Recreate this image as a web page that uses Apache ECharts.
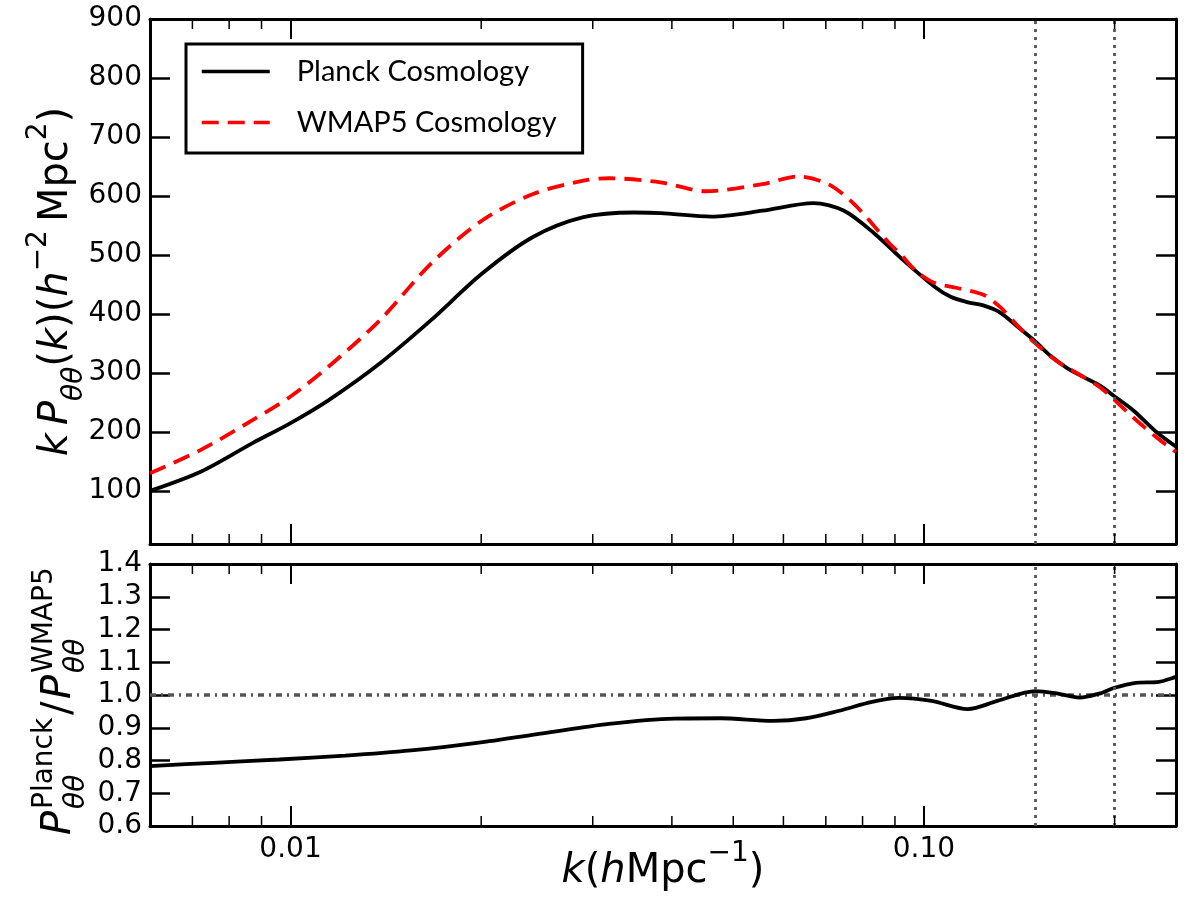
<!DOCTYPE html>
<html>
<head>
<meta charset="utf-8">
<script src="https://cdn.jsdelivr.net/npm/echarts@6/dist/echarts.min.js"></script>
<style>
  html, body { margin: 0; padding: 0; background: #fff; }
  #chart { width: 1200px; height: 900px; }
</style>
</head>
<body>
<div id="chart"></div>
<script>
// top panel: k P(k) for the two cosmologies
const planckK = [0.006, 0.00723, 0.00871, 0.01, 0.01149, 0.01383, 0.01665, 0.02004, 0.0241, 0.029, 0.0349, 0.0384, 0.0462, 0.0556, 0.0669, 0.0748, 0.0836, 0.0919, 0.1037, 0.1102, 0.117, 0.1244, 0.1321, 0.1403, 0.15, 0.1584, 0.1683, 0.1787, 0.19, 0.2, 0.2143, 0.2333, 0.25];
const planckP = [100, 133, 181, 215, 254, 316, 389, 468, 530, 564, 572, 571, 565, 575, 588, 575, 536, 495, 447, 429, 420, 414, 402, 379, 353, 329, 308, 293, 278, 260, 236, 199, 175];

const wmapK = [0.006, 0.00723, 0.00871, 0.01, 0.01149, 0.01383, 0.01665, 0.02004, 0.0241, 0.029, 0.0319, 0.0384, 0.0453, 0.0556, 0.0633, 0.0706, 0.0776, 0.0883, 0.0919, 0.0969, 0.1037, 0.1129, 0.1244, 0.1321, 0.1403, 0.15, 0.1622, 0.1787, 0.19, 0.2, 0.2143, 0.2333, 0.25];
const wmapP = [130, 170, 220, 260, 311, 389, 485, 558, 603, 626, 630, 623, 608, 620, 633, 620, 586, 519, 501, 474, 453, 444, 432, 411, 381, 350, 320, 293, 275, 254, 224, 190, 166];

// bottom panel: ratio Planck / WMAP5
const ratioK = [0.006, 0.00755, 0.0096, 0.0122, 0.0155, 0.0197, 0.025, 0.0318, 0.0404, 0.0477, 0.0578, 0.0652, 0.0735, 0.0828, 0.0912, 0.1028, 0.1173, 0.1306, 0.15, 0.162, 0.176, 0.189, 0.2, 0.216, 0.235, 0.25];
const ratioVals = [0.783, 0.793, 0.803, 0.815, 0.831, 0.854, 0.883, 0.912, 0.928, 0.929, 0.921, 0.929, 0.952, 0.979, 0.991, 0.982, 0.957, 0.982, 1.012, 1.005, 0.992, 1.004, 1.022, 1.037, 1.040, 1.056];

// ratio = 1 reference line
const unityK = [0.006, 0.25];
const unityVals = [1.0, 1.0];

const markerK = [0.15, 0.2];
const minorTickK = [0.007, 0.008, 0.009, 0.02, 0.03, 0.04, 0.05, 0.06, 0.07, 0.08, 0.09, 0.2];
const topYTicks = [100, 200, 300, 400, 500, 600, 700, 800, 900];

const font = '"DejaVu Sans", sans-serif';

function zip(a, b) { return a.map((v, i) => [v, b[i]]) }

const mathRich = {
  m: { fontSize: 40, fontFamily: font, color: '#000', lineHeight: 64, verticalAlign: 'middle' },
  i: { fontSize: 40, fontFamily: font, fontStyle: 'italic', color: '#000', lineHeight: 64, verticalAlign: 'middle' },
  sup: { fontSize: 28, fontFamily: font, color: '#000', lineHeight: 30, verticalAlign: 'top' },
  sub: { fontSize: 28, fontFamily: font, fontStyle: 'italic', color: '#000', lineHeight: 36, verticalAlign: 'bottom' }
};

// minor ticks on log axis, matplotlib style (2..9 of each decade), top and bottom of a grid
function minorTicks(params, api) {
  const cs = params.coordSys;
  const x = api.coord([api.value(0), api.value(1)])[0];
  const st = { stroke: '#000', lineWidth: 1.5 };
  return {
    type: 'group',
    children: [
      { type: 'line', shape: { x1: x, y1: cs.y + cs.height, x2: x, y2: cs.y + cs.height - 10 }, style: st },
      { type: 'line', shape: { x1: x, y1: cs.y, x2: x, y2: cs.y + 10 }, style: st }
    ]
  };
}

function xAxisFor(grid, pos, withLabels) {
  return {
    gridIndex: grid, type: 'log', logBase: 10, min: 0.006, max: 0.25, position: pos,
    axisLine: { show: true, onZero: false, lineStyle: { color: '#000', width: 3 } },
    axisTick: { show: true, inside: true, length: 20, lineStyle: { color: '#000', width: 2 } },
    axisLabel: {
      show: withLabels, color: '#000', fontSize: 28, fontFamily: font, margin: 10,
      showMinLabel: false, showMaxLabel: false,
      formatter: v => v.toFixed(2)
    },
    splitLine: { show: false },
    minorTick: { show: false }
  };
}

function yAxisFor(grid, pos, withLabels, extra) {
  return Object.assign({
    gridIndex: grid, type: 'value', position: pos,
    axisLine: { show: true, onZero: false, lineStyle: { color: '#000', width: 3 } },
    axisTick: { show: true, inside: true, length: 20, lineStyle: { color: '#000', width: 2.5 } },
    axisLabel: { show: withLabels, color: '#000', fontSize: 28, fontFamily: font, margin: 8 },
    splitLine: { show: false }
  }, extra);
}

const dotted = { type: [3, 5], color: '#555', width: 2.8 };

const option = {
  animation: false,
  backgroundColor: '#fff',
  grid: [
    { left: 150, top: 19, width: 1026, height: 525, outerBoundsMode: 'none' },
    { left: 150, top: 564, width: 1026, height: 262, outerBoundsMode: 'none' }
  ],
  legend: {
    data: ['Planck Cosmology', 'WMAP5 Cosmology'],
    orient: 'vertical',
    left: 186, top: 44,
    itemWidth: 68, itemHeight: 14, itemGap: 22,
    padding: [13, 26, 16, 14],
    borderColor: '#000', borderWidth: 3, borderRadius: 0,
    itemStyle: { opacity: 0 },
    lineStyle: { width: 3.5 },
    formatter: n => '{g|}' + n,
    textStyle: { fontSize: 29, fontFamily: 'Lato', color: '#000', rich: { g: { width: 22 } } }
  },
  xAxis: [
    xAxisFor(0, 'bottom', false),
    xAxisFor(0, 'top', false),
    Object.assign(xAxisFor(1, 'bottom', true), {
      name: '{i|k}{m|(}{i|h}{m|Mpc}{sup|\u22121}{m|)}',
      nameLocation: 'middle', nameGap: 14, nameMoveOverlap: false,
      nameTextStyle: { rich: mathRich }
    }),
    xAxisFor(1, 'top', false)
  ],
  yAxis: [
    yAxisFor(0, 'left', true, {
      min: 10, max: 900,
      axisLabel: { customValues: topYTicks, color: '#000', fontSize: 28, fontFamily: font, margin: 8 },
      axisTick: { inside: true, length: 20, customValues: topYTicks, lineStyle: { color: '#000', width: 2.5 } },
      name: '{i|k\u2009P}{sub|\u03b8\u03b8}{m|(}{i|k}{m|)(}{i|h}{sup|\u22122}{m|\u2009Mpc}{sup|2}{m|)}',
      nameLocation: 'middle', nameRotate: 90, nameGap: 61, nameMoveOverlap: false,
      nameTextStyle: { rich: mathRich }
    }),
    yAxisFor(0, 'right', false, {
      min: 10, max: 900,
      axisTick: { inside: true, length: 20, customValues: topYTicks, lineStyle: { color: '#000', width: 2.5 } }
    }),
    yAxisFor(1, 'left', true, {
      min: 0.6, max: 1.4, interval: 0.1,
      axisLabel: { color: '#000', fontSize: 28, fontFamily: font, margin: 8, formatter: v => v.toFixed(1) }
    }),
    yAxisFor(1, 'right', false, { min: 0.6, max: 1.4, interval: 0.1 })
  ],
  series: [
    {
      name: 'Planck Cosmology', type: 'line', xAxisIndex: 0, yAxisIndex: 0,
      data: zip(planckK, planckP), symbol: 'none', smooth: 0.3, z: 3,
      lineStyle: { color: '#000', width: 3.8 }, itemStyle: { color: '#000' },
      markLine: {
        symbol: 'none', silent: true, label: { show: false }, lineStyle: dotted,
        data: markerK.map(k => ({ xAxis: k }))
      }
    },
    {
      name: 'WMAP5 Cosmology', type: 'line', xAxisIndex: 0, yAxisIndex: 0,
      data: zip(wmapK, wmapP), symbol: 'none', smooth: 0.3, z: 4,
      lineStyle: { color: '#ff0000', width: 3.8, type: [17, 9] }, itemStyle: { color: '#ff0000' }
    },
    {
      name: 'unity', type: 'line', xAxisIndex: 2, yAxisIndex: 2,
      data: zip(unityK, unityVals), symbol: 'none', z: 2, silent: true,
      lineStyle: { color: '#555', width: 3.5, type: [6, 5, 2, 5] }
    },
    {
      name: 'ratio', type: 'line', xAxisIndex: 2, yAxisIndex: 2,
      data: zip(ratioK, ratioVals), symbol: 'none', smooth: 0.3, z: 4,
      lineStyle: { color: '#000', width: 3.8 }, itemStyle: { color: '#000' },
      markLine: {
        symbol: 'none', silent: true, label: { show: false }, lineStyle: dotted,
        data: markerK.map(k => ({ xAxis: k }))
      }
    },
    {
      type: 'custom', xAxisIndex: 0, yAxisIndex: 0, silent: true, clip: false, z: 5,
      data: minorTickK.map(k => [k, 500]), renderItem: minorTicks
    },
    {
      type: 'custom', xAxisIndex: 2, yAxisIndex: 2, silent: true, clip: false, z: 5,
      data: minorTickK.map(k => [k, 1.0]), renderItem: minorTicks
    }
  ],
  graphic: [
    {
      // bottom panel y label: P^Planck_θθ / P^WMAP5_θθ, rotated
      type: 'group', x: 60, y: 835, rotation: Math.PI / 2,
      children: [
        { type: 'text', x: 0, y: 0, style: { text: 'P', fontSize: 40, fontStyle: 'italic', fontFamily: font, fill: '#000', verticalAlign: 'middle' } },
        { type: 'text', x: 26, y: -15, style: { text: 'Planck', fontSize: 28, fontFamily: font, fill: '#000', verticalAlign: 'middle' } },
        { type: 'text', x: 26, y: 17, style: { text: '\u03b8\u03b8', fontSize: 28, fontStyle: 'italic', fontFamily: font, fill: '#000', verticalAlign: 'middle' } },
        { type: 'text', x: 120, y: 0, style: { text: '/', fontSize: 40, fontFamily: font, fill: '#000', verticalAlign: 'middle' } },
        { type: 'text', x: 136, y: 0, style: { text: 'P', fontSize: 40, fontStyle: 'italic', fontFamily: font, fill: '#000', verticalAlign: 'middle' } },
        { type: 'text', x: 162, y: -15, style: { text: 'WMAP5', fontSize: 28, fontFamily: font, fill: '#000', verticalAlign: 'middle' } },
        { type: 'text', x: 162, y: 17, style: { text: '\u03b8\u03b8', fontSize: 28, fontStyle: 'italic', fontFamily: font, fill: '#000', verticalAlign: 'middle' } }
      ]
    }
  ]
};

const chart = echarts.init(document.getElementById('chart'));
chart.setOption(option);
</script>
</body>
</html>
